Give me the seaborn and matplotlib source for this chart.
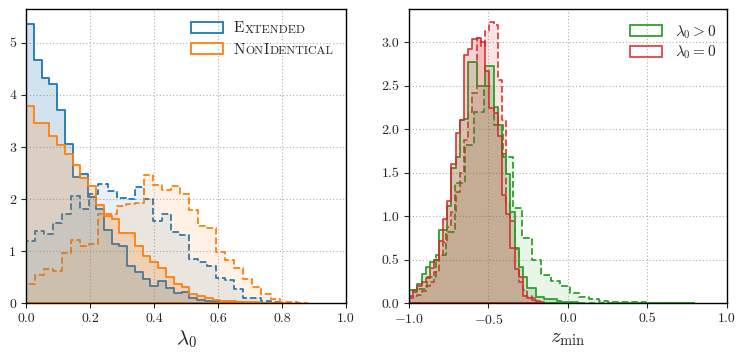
import numpy as np
import pandas as pd
import matplotlib
matplotlib.use("Agg")
import matplotlib.pyplot as plt
from matplotlib.patches import Patch
from matplotlib.colors import to_rgba
import seaborn as sns

# ---------------- data (bin heights, density) ----------------
# left panel: lambda_0
lam_solid_start, lam_solid_width = 0.0, 0.0243
lam_dash_start, lam_dash_width = 0.0, 0.0283
ext_solid = [5.37, 4.67, 4.32, 4.21, 3.71, 3.06, 2.42, 2.49, 2.04, 1.81, 1.41, 1.13,
             1.10, 0.71, 0.61, 0.46, 0.34, 0.43, 0.29, 0.20, 0.21, 0.11, 0.06, 0.05,
             0.04, 0.03, 0.02, 0.02, 0.01, 0.01, 0.005]
non_solid = [3.78, 3.46, 3.46, 3.22, 3.03, 2.86, 2.65, 2.40, 2.25, 1.88, 1.68, 1.62,
             1.35, 1.35, 1.10, 0.90, 0.79, 0.68, 0.50, 0.38, 0.31, 0.17, 0.15, 0.11,
             0.06, 0.04, 0.04, 0.03, 0.02, 0.02, 0.015, 0.01, 0.01]
ext_dash = [1.20, 1.38, 1.34, 1.54, 1.72, 2.06, 1.82, 2.09, 2.29, 2.15, 2.03, 2.00,
            2.24, 2.00, 1.59, 1.72, 1.37, 1.32, 0.86, 0.80, 0.72, 0.48, 0.45, 0.28,
            0.11, 0.10, 0.04, 0.02]
non_dash = [0.37, 0.55, 0.65, 0.62, 0.97, 1.22, 1.11, 1.13, 1.71, 1.72, 1.86, 1.90,
            1.92, 2.46, 2.27, 2.17, 2.26, 2.10, 1.79, 1.48, 1.45, 0.99, 0.83, 0.67,
            0.46, 0.32, 0.17, 0.08, 0.03, 0.02, 0.01]

# right panel: z_min
z_start, z_width = -1.0, 0.0266
zg_dash_start, zg_dash_width = -1.008, 0.060
red_solid = [0.08, 0.15, 0.20, 0.24, 0.29, 0.41, 0.50, 0.72, 0.97, 1.18, 1.60, 1.96,
             2.10, 2.85, 2.92, 3.03, 3.05, 3.00, 2.67, 2.24, 2.18, 1.92, 1.24, 1.03,
             0.63, 0.40, 0.30, 0.09, 0.06, 0.04, 0.02, 0.01]
green_solid = [0.15, 0.15, 0.22, 0.34, 0.42, 0.47, 0.50, 0.84, 0.84, 1.12, 1.55, 1.68,
               2.10, 2.12, 2.77, 2.77, 2.50, 2.50, 2.72, 2.72, 2.25, 2.05, 1.72, 1.49,
               1.05, 0.64, 0.42, 0.30, 0.18, 0.18, 0.07, 0.07, 0.05, 0.05, 0.05, 0.03,
               0.02, 0.02, 0.01, 0.01]
red_dash = [0.06, 0.08, 0.10, 0.14, 0.20, 0.25, 0.36, 0.56, 0.70, 0.88, 1.05, 1.28,
            1.50, 1.87, 2.20, 2.42, 3.05, 2.95, 3.13, 3.23, 3.20, 2.57, 2.10, 1.15,
            0.95, 0.62, 0.25, 0.15, 0.08, 0.06, 0.03, 0.01]
green_dash = [0.13, 0.17, 0.30, 0.55, 0.82, 1.38, 1.82, 2.20, 2.49, 2.05, 1.68, 1.10,
              0.75, 0.50, 0.33, 0.26, 0.20, 0.115, 0.07, 0.05, 0.03, 0.02, 0.015, 0.01,
              0.01, 0.008, 0.005, 0.005, 0.004, 0.003]

BLUE, ORANGE, GREEN, RED = "#1f77b4", "#ff7f0e", "#2ca02c", "#d62728"

# ---------------- style ----------------
sns.set_style("ticks")
plt.rcParams.update({
    "font.family": "serif",
    "font.serif": ["cmr10", "DejaVu Serif"],
    "mathtext.fontset": "cm",
    "axes.formatter.use_mathtext": True,
    "axes.unicode_minus": True,
    "font.size": 10,
    "xtick.direction": "out",
    "ytick.direction": "out",
    "xtick.major.size": 3.5,
    "ytick.major.size": 3.5,
    "axes.edgecolor": "black",
    "axes.linewidth": 1.0,
})

fig = plt.figure(figsize=(7.47, 3.59), dpi=100)
axL = fig.add_axes([0.0348, 0.155, 0.4284, 0.820])
axR = fig.add_axes([0.5475, 0.155, 0.4257, 0.820])


def step_hist(ax, start, width, heights, color, ls, alpha, lw=1.3, edge_alpha=1.0):
    heights = np.asarray(heights, dtype=float)
    edges = start + width * np.arange(len(heights) + 1)
    df = pd.DataFrame({"x": 0.5 * (edges[:-1] + edges[1:]), "w": heights})
    sns.histplot(data=df, x="x", weights="w", bins=[float(e) for e in edges],
                 element="step", fill=True, color=color, alpha=alpha,
                 edgecolor=to_rgba(color, edge_alpha),
                 linestyle=ls, linewidth=lw, ax=ax)


# left
step_hist(axL, lam_dash_start, lam_dash_width, ext_dash, BLUE, "--", 0.10)
step_hist(axL, lam_dash_start, lam_dash_width, non_dash, ORANGE, "--", 0.10)
step_hist(axL, lam_solid_start, lam_solid_width, ext_solid, BLUE, "-", 0.20)
step_hist(axL, lam_solid_start, lam_solid_width, non_solid, ORANGE, "-", 0.20)

# right
step_hist(axR, zg_dash_start, zg_dash_width, green_dash, GREEN, "--", 0.10)
step_hist(axR, z_start, z_width, red_dash, RED, "--", 0.12, edge_alpha=0.85)
step_hist(axR, z_start, z_width, green_solid, GREEN, "-", 0.20)
step_hist(axR, z_start, z_width, red_solid, RED, "-", 0.20, edge_alpha=0.85)

for ax in (axL, axR):
    ax.grid(True, linestyle=(0, (1, 2)), color="#b0b0b0", linewidth=0.8)
    ax.set_axisbelow(True)
    ax.set_ylabel("")
    for s in ax.spines.values():
        s.set_visible(True)
        s.set_color("black")

axL.set_xlim(0, 1)
axL.set_ylim(0, 5.65)
axL.set_xticks([0, 0.2, 0.4, 0.6, 0.8, 1.0])
axL.set_yticks([0, 1, 2, 3, 4, 5])
axL.set_xticklabels(["0.0", "0.2", "0.4", "0.6", "0.8", "1.0"])
axL.set_yticklabels(["0", "1", "2", "3", "4", "5"])
axL.set_xlabel(r"$\lambda_0$", fontsize=15, labelpad=2)

axR.set_xlim(-1, 1)
axR.set_ylim(0, 3.38)
axR.set_xticks([-1.0, -0.5, 0.0, 0.5, 1.0])
axR.set_xticklabels(["$-1.0$", "$-0.5$", "0.0", "0.5", "1.0"])
axR.set_yticks([0, 0.5, 1.0, 1.5, 2.0, 2.5, 3.0])
axR.set_yticklabels(["0.0", "0.5", "1.0", "1.5", "2.0", "2.5", "3.0"])
axR.set_xlabel(r"$z_{\min}$", fontsize=15, labelpad=2)

# legends
BIG, SMALL = 11, 8.6
legL = axL.legend(handles=[Patch(facecolor="none", edgecolor=BLUE, lw=1.3),
                           Patch(facecolor="none", edgecolor=ORANGE, lw=1.3)],
                  labels=["E", "N"], loc="upper left", frameon=False,
                  fontsize=BIG, handlelength=2.1, handleheight=0.75,
                  handletextpad=0.75, labelspacing=0.5,
                  borderaxespad=0.0, bbox_to_anchor=(0.495, 0.978))
t_e, t_n = legL.get_texts()
kw = dict(xy=(1, 0), va="bottom", ha="left", textcoords="offset points", zorder=10)
axL.annotate("XTENDED", xycoords=t_e, fontsize=SMALL, xytext=(0.2, 0.7), **kw)
b1 = axL.annotate("ON", xycoords=t_n, fontsize=SMALL, xytext=(0.2, 0.7), **kw)
b2 = axL.annotate("I", xycoords=b1, fontsize=BIG, xytext=(0.2, -0.7), **kw)
axL.annotate("DENTICAL", xycoords=b2, fontsize=SMALL, xytext=(0.2, 0.7), **kw)

axR.legend(handles=[Patch(facecolor="none", edgecolor=GREEN, lw=1.3),
                    Patch(facecolor="none", edgecolor=to_rgba(RED, 0.85), lw=1.3)],
           labels=[r"$\lambda_0 > 0$", r"$\lambda_0 = 0$"], loc="upper right",
           frameon=False, fontsize=BIG, handlelength=2.1, handleheight=0.75,
           handletextpad=0.8, labelspacing=0.2,
           borderaxespad=0.0, bbox_to_anchor=(0.985, 0.973))

fig.savefig("out.png", dpi=100)
